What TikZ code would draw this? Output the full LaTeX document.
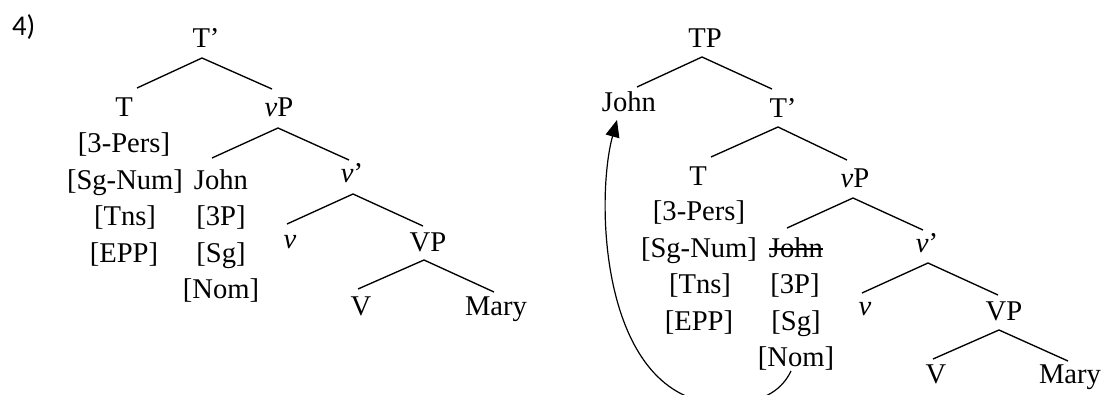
\documentclass[tikz,border=0pt]{standalone}
\usepackage{fontspec}
\setmainfont{Liberation Serif}
\newfontfamily\exfont{Carlito}
\usetikzlibrary{arrows.meta,calc}

\begin{document}
\begin{tikzpicture}[x=1pt,y=1pt,
  lbl/.style={font=\fontsize{28.6}{34}\selectfont, inner sep=0pt, anchor=base},
  branch/.style={line width=1.35pt},
  move/.style={line width=1.2pt, -{Triangle[length=17pt,width=14pt]}},
  struck/.style={line width=1.4pt}]
\useasboundingbox (0,0) rectangle (1104,-394);
\clip (0,0) rectangle (1104,-394);

% example number
\node[lbl, anchor=base west, font=\exfont\fontsize{28.6}{34}\selectfont] (ex) at (12,-35) {4)};

% ---------- left tree: T' ----------
\node[lbl] (Tp1) at (206,-47) {T’};
\node[lbl] (T1)  at (124,-116) {T};
\node[lbl] (vP1) at (279,-116) {\textit{v}P};
\node[lbl] (T1a) at (124,-152.5) {[3-Pers]};
\node[lbl] (T1b) at (125,-189) {[Sg-Num]};
\node[lbl] (T1c) at (125,-225.5) {[Tns]};
\node[lbl] (T1d) at (124,-262) {[EPP]};
\node[lbl] (J1)  at (221,-189) {John};
\node[lbl] (J1a) at (221,-225.5) {[3P]};
\node[lbl] (J1b) at (221,-262) {[Sg]};
\node[lbl] (J1c) at (221,-298) {[Nom]};
\node[lbl] (vb1) at (352,-182) {\textit{v}’};
\node[lbl] (v1)  at (290,-248) {\textit{v}};
\node[lbl] (VP1) at (428,-251) {VP};
\node[lbl] (V1)  at (361,-315) {V};
\node[lbl] (M1)  at (496,-315) {Mary};

\draw[branch] ($(T1.base)+(13,28)$) -- ($(Tp1.base)+(-4,-11)$) -- ($(vP1.base)+(-7,27)$);
\draw[branch] ($(J1.base)+(-9,31)$) -- ($(vP1.base)+(-1,-12)$) -- ($(vb1.base)+(-3,22)$);
\draw[branch] ($(v1.base)+(-3,24)$) -- ($(vb1.base)+(1,-12)$) -- ($(VP1.base)+(-5,25)$);
\draw[branch] ($(V1.base)+(-3,26)$) -- ($(VP1.base)+(-4,-9)$) -- ($(M1.base)+(-2,23)$);

% ---------- right tree: TP ----------
\node[lbl] (TP)  at (705,-47) {TP};
\node[lbl] (J2)  at (629,-111) {John};
\node[lbl] (Tp2) at (783,-117) {T’};
\node[lbl] (T2)  at (698,-185.5) {T};
\node[lbl] (vP2) at (855,-187) {\textit{v}P};
\node[lbl] (T2a) at (699,-220.5) {[3-Pers]};
\node[lbl] (T2b) at (699,-257) {[Sg-Num]};
\node[lbl] (T2c) at (700,-293.5) {[Tns]};
\node[lbl] (T2d) at (699,-330) {[EPP]};
\node[lbl] (J2s) at (796,-257) {John};
\node[lbl] (J2a) at (795,-293.5) {[3P]};
\node[lbl] (J2b) at (796,-330) {[Sg]};
\node[lbl] (J2c) at (796,-366.5) {[Nom]};
\node[lbl] (vb2) at (927,-252) {\textit{v}’};
\node[lbl] (v2)  at (865,-315) {\textit{v}};
\node[lbl] (VP2) at (1004,-320) {VP};
\node[lbl] (V2)  at (936,-383) {V};
\node[lbl] (M2)  at (1070,-383) {Mary};

\draw[branch] ($(J2.base)+(8,24)$) -- ($(TP.base)+(-3,-10)$) -- ($(Tp2.base)+(-11,28)$);
\draw[branch] ($(T2.base)+(13,28.5)$) -- ($(Tp2.base)+(-5,-10)$) -- ($(vP2.base)+(-8,27)$);
\draw[branch] ($(J2s.base)+(-9,29)$) -- ($(vP2.base)+(-2,-11)$) -- ($(vb2.base)+(-4,22)$);
\draw[branch] ($(v2.base)+(-3,22)$) -- ($(vb2.base)+(1,-11)$) -- ($(VP2.base)+(-6,25)$);
\draw[branch] ($(V2.base)+(-3,24)$) -- ($(VP2.base)+(-5,-10)$) -- ($(M2.base)+(-2,22)$);

% deleted copy of the moved subject
\draw[struck] ($(J2s.base west)+(0,8)$) -- ($(J2s.base east)+(0,8)$);

% movement arrow from the lower copy to the specifier of TP
\draw[move] ($(J2c.base)+(-5,-4.5)$)
  .. controls (781,-392) and (760,-404) .. (722,-404)
  .. controls (600,-400) and (595,-200) .. ($(J2.base)+(-12,-9)$);
\end{tikzpicture}
\end{document}
